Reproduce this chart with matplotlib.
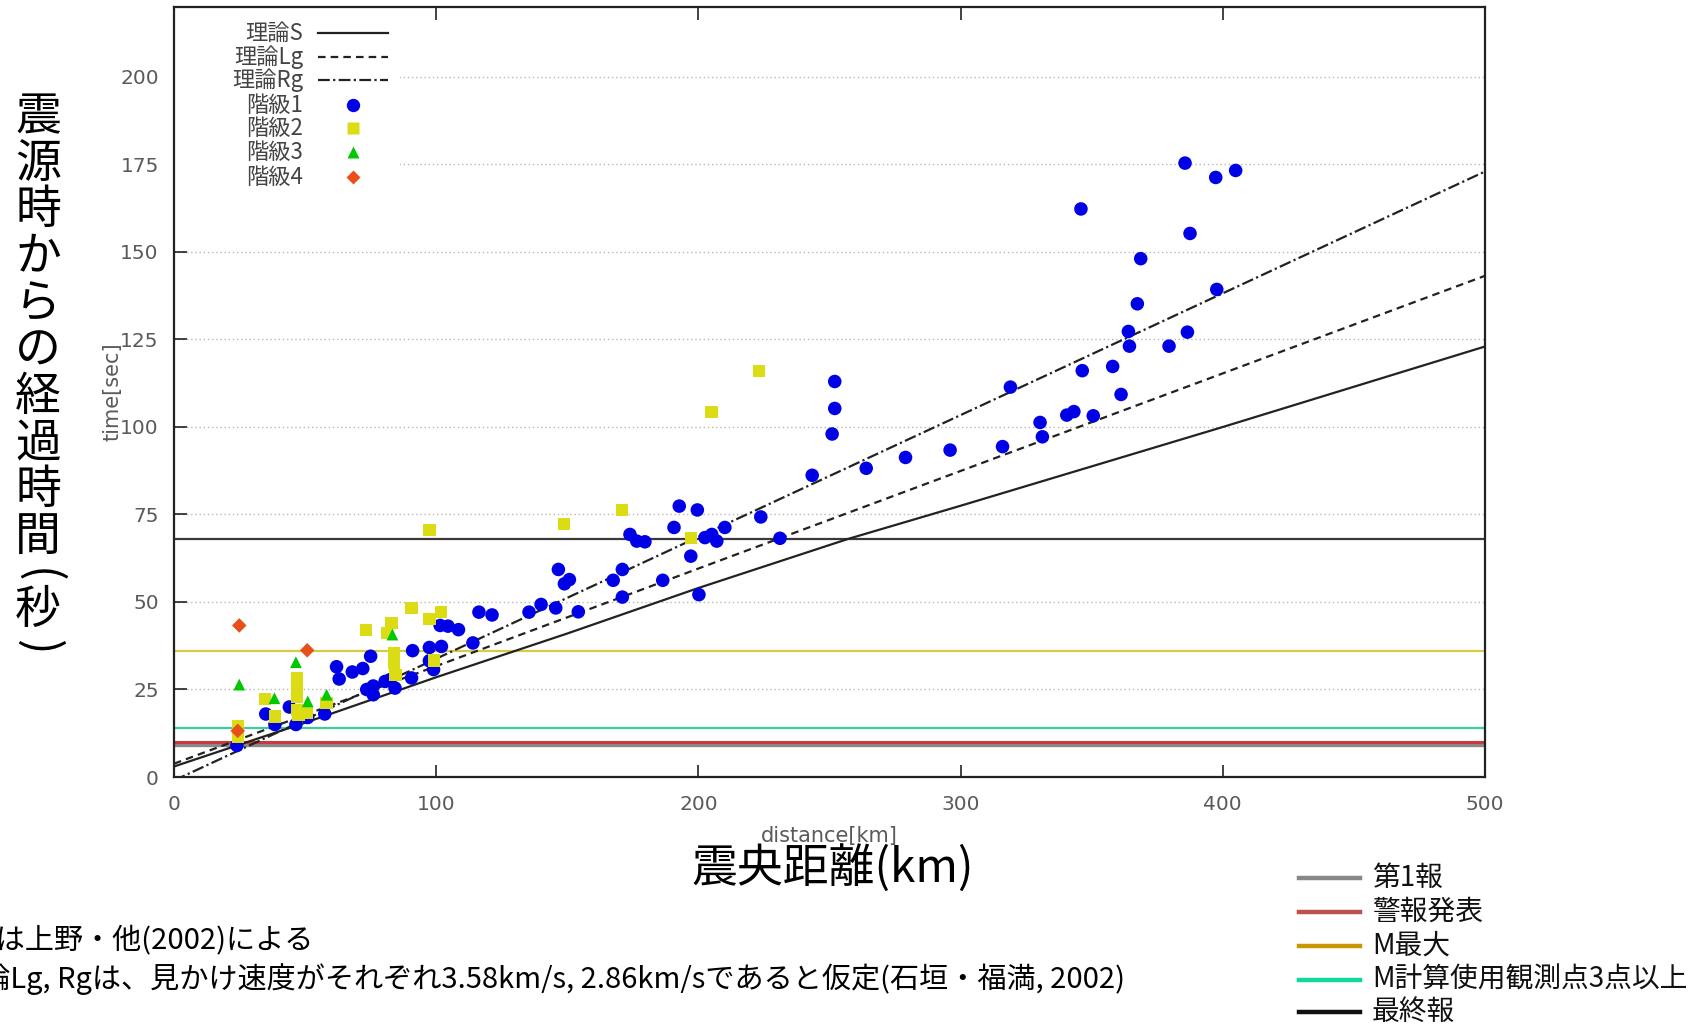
import matplotlib
matplotlib.use('Agg')
import matplotlib.pyplot as plt
from matplotlib.lines import Line2D
from matplotlib.patches import Rectangle

plt.rcParams['font.family'] = ['DejaVu Sans', 'Noto Sans CJK JP']
JP = ['Noto Sans CJK JP', 'DejaVu Sans']

# 理論走時
s_dist = [0, 50, 100, 150, 200, 257, 300, 400, 500]
s_time = [3, 15.5, 28.5, 41, 54, 68, 77.5, 100, 123]
lg_dist = [0, 500]
lg_time = [3.8, 143.2]
rg_dist = [0, 500]
rg_time = [-1, 173]

# 階級1
c1_dist = [24, 35, 38.5, 44, 46.5, 51, 57.5, 62, 63, 68, 72, 75, 73.5, 76, 76,
           80.5, 84.3, 82.4, 90.6, 91, 97.4, 102, 97.4, 99, 101.5, 104.5, 108.5,
           114, 116.3, 121.3, 135.4, 140, 145.6, 146.6, 150.8, 148.9, 154.2,
           167.5, 171, 171, 173.9, 176.5, 179.6, 186.4, 190.7, 192.7, 199.6,
           197.1, 200.2, 202.5, 205.1, 207, 210.1, 223.8, 231.1, 243.4, 251,
           252, 252, 264, 279, 296, 316, 319, 330.3, 331.2, 340.5, 343.2, 345.9,
           346.4, 350.6, 358, 361.2, 364, 364.4, 367.4, 368.7, 379.5, 385.6,
           386.5, 387.5, 397.3, 397.7, 404.9]
c1_time = [9, 18, 15, 20, 15, 17, 18, 31.5, 28, 30, 31, 34.5, 25, 26, 23.5,
           27.3, 25.4, 27.8, 28.3, 36.1, 37, 37.3, 33.2, 30.7, 43.3, 43.1, 42.1,
           38.3, 47.1, 46.3, 47.1, 49.3, 48.3, 59.3, 56.4, 55.2, 47.2,
           56.2, 59.3, 51.4, 69.3, 67.4, 67.2, 56.2, 71.3, 77.4, 76.3,
           63.1, 52.1, 68.4, 69.3, 67.4, 71.3, 74.3, 68.2, 86.2, 98,
           105.3, 113, 88.2, 91.3, 93.4, 94.4, 111.4, 101.3, 97.2, 103.4, 104.4, 162.3,
           116.1, 103.2, 117.3, 109.3, 127.3, 123.1, 135.2, 148.1, 123.1, 175.4,
           127.1, 155.3, 171.3, 139.3, 173.3]

# 階級2
c2_dist = [24.5, 24.5, 34.7, 38.5, 47, 47, 47, 47, 47.5, 50.6, 58.2, 73.1, 83,
           81.1, 83.9, 83.9, 84.5, 90.6, 97.4, 101.8, 99.2, 97.4, 148.7, 171,
           197.1, 205, 223]
c2_time = [14.4, 11.5, 22.3, 17.3, 28.3, 25.7, 23, 19.2, 17.8, 18.3, 21.1, 42.1, 44,
           41.2, 35.4, 32.6, 29.2, 48.3, 45.2, 47.1, 33.3, 70.5, 72.2, 76.3,
           68.2, 104.3, 116.1]

# 階級3
c3_dist = [24.9, 38.3, 46.5, 51, 58.2, 83.3]
c3_time = [26.4, 22.5, 32.8, 21.6, 23.5, 40.7]

# 階級4
c4_dist = [24.9, 50.8, 24.3]
c4_time = [43.3, 36.2, 13.2]

# 発表タイミング (秒)
event_names = ['第1報', '警報発表', 'M最大', 'M計算使用観測点3点以上', '最終報']
event_times = [9, 10, 36, 14, 68]
event_colors = ['#8a8a8a', '#c8383c', '#d6cc44', '#3ccaa0', '#3a3a3a']
event_widths = [2.4, 2.2, 1.6, 1.6, 1.6]
swatch_colors = ['#888888', '#c0504d', '#c89600', '#10d8a0', '#111111']

fig = plt.figure(figsize=(17, 10.26), dpi=100)
ax = fig.add_axes([0.10235, 0.24269, 0.77118, 0.75049])

for t, col, lw in zip(event_times, event_colors, event_widths):
    ax.axhline(t, color=col, lw=lw, zorder=2)

ax.plot(s_dist, s_time, color='#222222', lw=1.6, zorder=3)
ax.plot(lg_dist, lg_time, color='#222222', lw=1.6, dashes=(3.4, 2.3), zorder=3)
ax.plot(rg_dist, rg_time, color='#222222', lw=1.6, dashes=(5.3, 1.5, 1, 1.5), zorder=3)

ax.scatter(c1_dist, c1_time, s=95, c='#0000e6', marker='o', edgecolors='none', zorder=4)
ax.scatter(c2_dist, c2_time, s=78, c='#dcdc14', marker='s', edgecolors='none', zorder=5)
ax.scatter(c3_dist, c3_time, s=72, c='#00c800', marker='^', edgecolors='none', zorder=6)
ax.scatter(c4_dist, c4_time, s=55, c='#e8501a', marker='D', edgecolors='none', zorder=7)

ax.set_xlim(0, 500)
ax.set_ylim(0, 220)
ax.set_xticks(range(0, 501, 100))
ax.set_yticks(range(0, 201, 25))
ax.set_axisbelow(True)
ax.yaxis.grid(True, linestyle=(0, (1, 2)), color='#b8b8b8', lw=1)
ax.tick_params(direction='in', length=9, width=1.2, top=True, right=False,
               labelsize=14.5, labelcolor='#5a5a5a', color='#222222')
ax.tick_params(axis='y', pad=11)
ax.tick_params(axis='x', pad=13)
for sp in ax.spines.values():
    sp.set_linewidth(1.6)
    sp.set_color('#222222')

ax.set_xlabel('distance[km]', fontsize=15, color='#5a5a5a')
ax.set_ylabel('time[sec]', fontsize=15, color='#5a5a5a')
ax.xaxis.set_label_coords(0.5, -0.064)
ax.yaxis.set_label_coords(-0.039, 0.5)

# 凡例 (gnuplot風)
ax.add_patch(Rectangle((0, 0.749), 0.1724, 0.251, transform=ax.transAxes,
                       facecolor='white', edgecolor='none', zorder=1.5))
key_labels = ['理論S', '理論Lg', '理論Rg', '階級1', '階級2', '階級3', '階級4']
key_y = [0.9662, 0.9351, 0.9052, 0.8727, 0.8429, 0.8117, 0.7792]
key_style = [dict(ls='-'), dict(dashes=(3.4, 2.3)), dict(dashes=(5.3, 1.5, 1, 1.5))]
key_marks = [('o', 9.6, '#0000e6'), ('s', 8.6, '#dcdc14'), ('^', 8.0, '#00c800'), ('D', 7.2, '#e8501a')]
for i, (lab, y) in enumerate(zip(key_labels, key_y)):
    ax.text(0.0984, y, lab, transform=ax.transAxes, ha='right', va='center',
            fontsize=16, color='#444444', family=JP)
    if i < 3:
        ax.add_line(Line2D([0.1098, 0.1632], [y, y], transform=ax.transAxes,
                           color='#222222', lw=1.6, **key_style[i]))
    else:
        m, ms, col = key_marks[i - 3]
        ax.plot([0.1365], [y], transform=ax.transAxes, marker=m, ms=ms,
                color=col, mec='none', ls='none', clip_on=False)

# 日本語の軸ラベル
fig.text(833 / 1700, 1 - 869 / 1026, '震央距離(km)', ha='center', va='center',
         fontsize=33, family=JP)
ylabel_chars = '震源時からの経過時間'
for i, ch in enumerate(ylabel_chars):
    fig.text(38 / 1700, 1 - (117 + 46.6 * i) / 1026, ch, ha='center', va='center',
             fontsize=33, family=JP)
fig.text(38 / 1700, 1 - 576 / 1026, '(', rotation=-90, ha='center', va='center',
         fontsize=33, family=JP)
fig.text(38 / 1700, 1 - 610 / 1026, '秒', ha='center', va='center', fontsize=33, family=JP)
fig.text(38 / 1700, 1 - 647 / 1026, ')', rotation=-90, ha='center', va='center',
         fontsize=33, family=JP)

# 注記
fig.text(314 / 1700, 1 - 941 / 1026, '理論Sは上野・他(2002)による', ha='right', va='center',
         fontsize=21, family=JP)
fig.text(1125 / 1700, 1 - 979 / 1026,
         '理論Lg, Rgは、見かけ速度がそれぞれ3.58km/s, 2.86km/sであると仮定(石垣・福満, 2002)',
         ha='right', va='center', fontsize=21, family=JP)

# 発表タイミングの凡例
leg_y = [878, 912, 946, 980, 1012]
for name, col, y in zip(event_names, swatch_colors, leg_y):
    fig.add_artist(Line2D([1299 / 1700, 1360 / 1700], [1 - y / 1026, 1 - y / 1026],
                          color=col, lw=3.2))
    fig.text(1372 / 1700, 1 - y / 1026, name, ha='left', va='center', fontsize=20,
             family=JP, color='#111111')

fig.savefig('out.png', dpi=100, facecolor='white')
